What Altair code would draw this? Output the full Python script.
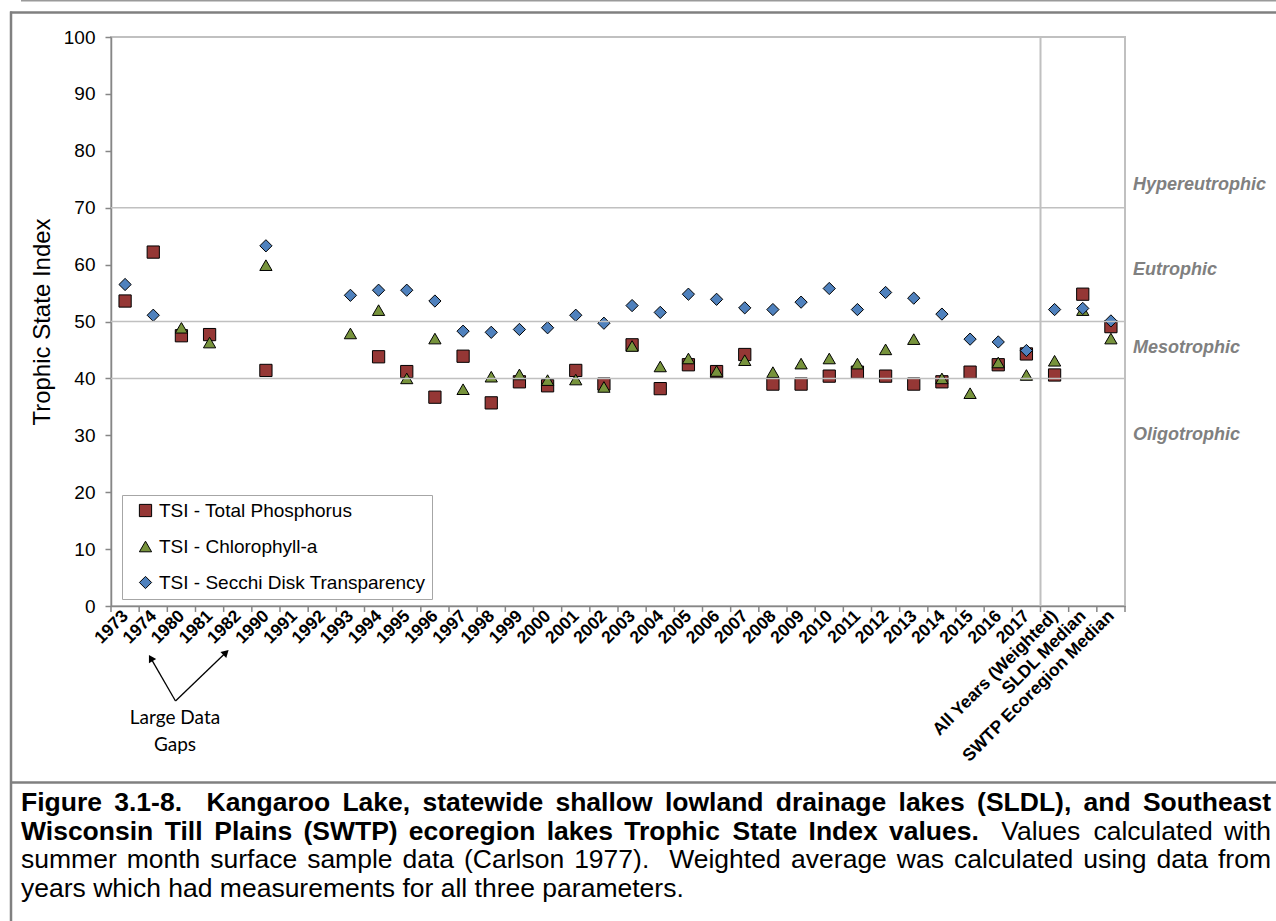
import math
import altair as alt
import pandas as pd

# ---- chart values -------------------------------------------------------
categories = ["1973", "1974", "1980", "1981", "1982", "1990", "1991", "1992",
              "1993", "1994", "1995", "1996", "1997", "1998", "1999", "2000",
              "2001", "2002", "2003", "2004", "2005", "2006", "2007", "2008",
              "2009", "2010", "2011", "2012", "2013", "2014", "2015", "2016",
              "2017", "All Years (Weighted)", "SLDL Median", "SWTP Ecoregion Median"]

series_names = ["TSI - Total Phosphorus", "TSI - Chlorophyll-a",
                "TSI - Secchi Disk Transparency"]

tsi_tp = [53.6, 62.2, 47.5, 47.7, None, 41.4, None, None, None,
          43.8, 41.2, 36.7, 43.9, 35.7, 39.4, 38.7, 41.4, 39.0, 45.9, 38.2,
          42.4, 41.2, 44.2, 39.0, 39.0, 40.4, 41.1, 40.4, 39.0, 39.4, 41.1,
          42.4, 44.3, 40.6, 54.8, 49.1]
tsi_chl = [None, None, 48.9, 46.3, None, 59.9, None, None, 47.9,
           52.0, 40.0, 47.0, 38.1, 40.3, 40.7, 39.7, 39.8, 38.5, 45.7, 42.1,
           43.5, 41.3, 43.2, 41.1, 42.6, 43.5, 42.6, 45.1, 46.9, 40.0, 37.4,
           42.8, 40.6, 43.1, 52.0, 47.0]
tsi_sd = [56.5, 51.1, None, None, None, 63.3, None, None, 54.6,
          55.5, 55.5, 53.6, 48.3, 48.1, 48.6, 48.9, 51.1, 49.7, 52.8, 51.6,
          54.8, 53.9, 52.4, 52.1, 53.4, 55.8, 52.1, 55.1, 54.1, 51.3, 46.9,
          46.4, 44.9, 52.1, 52.3, 50.1]

trophic_bounds = [40, 50, 70]
zone_names = ["Hypereutrophic", "Eutrophic", "Mesotrophic", "Oligotrophic"]
zone_label_at = [74.0, 59.0, 45.3, 30.0]

caption_lines = [
    ([("Figure 3.1-8.  Kangaroo Lake, statewide shallow lowland drainage lakes "
       "(SLDL), and Southeast", True)], True),
    ([("Wisconsin Till Plains (SWTP) ecoregion lakes Trophic State Index values.", True),
      ("  Values calculated with", False)], True),
    ([("summer month surface sample data (Carlson 1977).  Weighted average was "
       "calculated using data from", False)], True),
    ([("years which had measurements for all three parameters.", False)], False),
]

# ---- layout ---------------------------------------------------------------
CANVAS_W, CANVAS_H = 1276, 921
LEFT, TOP = 111, 37
W, H = 1014, 569
FONT = "Liberation Sans"
AXIS_GRAY = "#868686"
GRID_GRAY = "#c0c0c0"
FRAME_GRAY = "#808080"


def px(x):
    return x - LEFT


def py(y):
    return y - TOP


def one_row():
    return pd.DataFrame({"k": [0]})


# ---- point table ----------------------------------------------------------
rows = []
for name, vals in zip(series_names, [tsi_tp, tsi_chl, tsi_sd]):
    for cat, v in zip(categories, vals):
        if v is not None:
            rows.append({"category": cat, "series": name, "tsi": v})
points_df = pd.DataFrame(rows)

x_scale = alt.Scale(domain=categories, paddingInner=0, paddingOuter=0)
y_scale = alt.Scale(domain=[0, 100], nice=False, zero=True)

legend = alt.Legend(
    title=None, orient="none", legendX=px(122), legendY=py(495),
    direction="vertical", fillColor="white", strokeColor="#a6a6a6",
    padding=6, rowPadding=16, labelFont=FONT, labelFontSize=19,
    labelColor="black", labelLimit=500, labelOffset=4,
    symbolSize=150, symbolStrokeColor="black", symbolStrokeWidth=1,
    symbolOffset=8,
)

points = alt.Chart(points_df).mark_point(
    filled=True, stroke="black", strokeWidth=1, opacity=1, size=150
).encode(
    x=alt.X("category:N", scale=x_scale, sort=categories,
            axis=alt.Axis(title=None, ticks=False, labelAngle=315,
                          labelAlign="right", labelBaseline="middle",
                          labelFont=FONT, labelFontSize=17.5,
                          labelFontWeight="bold", labelColor="black",
                          labelPadding=7, labelOverlap=False, labelLimit=0,
                          domainColor=AXIS_GRAY, domainWidth=1.5)),
    y=alt.Y("tsi:Q", scale=y_scale,
            axis=alt.Axis(values=list(range(0, 101, 10)), grid=False,
                          tickSize=6, tickColor=AXIS_GRAY, tickWidth=1.5,
                          domainColor=AXIS_GRAY, domainWidth=1.5,
                          labelFont=FONT, labelFontSize=19,
                          labelColor="black", labelPadding=10,
                          title="Trophic State Index", titleFont=FONT,
                          titleFontSize=24, titleFontWeight="normal",
                          titleColor="black", titleAngle=270,
                          titleAlign="center", titleBaseline="middle",
                          titleX=px(42), titleY=H / 2)),
    color=alt.Color("series:N", sort=series_names,
                    scale=alt.Scale(domain=series_names,
                                    range=["#953735", "#77933C", "#4F81BD"]),
                    legend=legend),
    shape=alt.Shape("series:N", sort=series_names,
                    scale=alt.Scale(domain=series_names,
                                    range=["square", "triangle-up", "diamond"]),
                    legend=legend),
)

# trophic class boundaries
grid = alt.Chart(pd.DataFrame({"tsi": trophic_bounds})).mark_rule(
    color=GRID_GRAY, strokeWidth=1.5
).encode(y=alt.Y("tsi:Q", scale=y_scale, axis=None),
         x=alt.value(0), x2=alt.value(W))

# divider between annual values and summary values
divider = alt.Chart(pd.DataFrame({"category": ["All Years (Weighted)"]})).mark_rule(
    color=GRID_GRAY, strokeWidth=2
).encode(x=alt.X("category:N", scale=x_scale, sort=categories,
                 bandPosition=0, axis=None),
         y=alt.value(0), y2=alt.value(H))

# category boundary ticks on the x axis
xticks = alt.Chart(pd.DataFrame({"category": categories})).mark_rule(
    color=AXIS_GRAY, strokeWidth=1.5
).encode(x=alt.X("category:N", scale=x_scale, sort=categories,
                 bandPosition=0, axis=None),
         y=alt.value(H), y2=alt.value(H + 6))
end_tick = alt.Chart(one_row()).mark_rule(
    color=AXIS_GRAY, strokeWidth=1.5
).encode(x=alt.value(W), y=alt.value(H), y2=alt.value(H + 6))

zones = alt.Chart(pd.DataFrame({"zone": zone_names, "tsi": zone_label_at})).mark_text(
    align="left", baseline="middle", font=FONT, fontSize=18,
    fontWeight="bold", fontStyle="italic", color="#808080"
).encode(y=alt.Y("tsi:Q", scale=y_scale, axis=None),
         x=alt.value(px(1133)), text="zone:N")

# ---- figure frame ------------------------------------------------------------
def hline(x1, x2, y, color, width):
    return alt.Chart(one_row()).mark_rule(color=color, strokeWidth=width).encode(
        x=alt.value(px(x1)), x2=alt.value(px(x2)), y=alt.value(py(y)))


def vline(x, y1, y2, color, width):
    return alt.Chart(one_row()).mark_rule(color=color, strokeWidth=width).encode(
        x=alt.value(px(x)), y=alt.value(py(y1)), y2=alt.value(py(y2)))


frame = [
    hline(21, CANVAS_W, 0.75, "#9a9a9a", 1.5),
    hline(10, CANVAS_W, 12.5, FRAME_GRAY, 2.5),
    vline(11, 11.5, CANVAS_H, FRAME_GRAY, 2.5),
    hline(10, CANVAS_W, 782.5, FRAME_GRAY, 2.5),
]

# ---- "Large Data Gaps" note with arrows --------------------------------------
note = [
    alt.Chart(one_row()).mark_text(
        align="center", baseline="middle", font="Lato", fontSize=19,
        color="black", text=t
    ).encode(x=alt.value(px(175)), y=alt.value(py(yy)))
    for t, yy in [("Large Data", 718), ("Gaps", 745)]
]

arrow_base = (175.5, 701)
arrow_tips = [(149, 655), (228.5, 650)]
arrows = []
for tx, ty in arrow_tips:
    bx, by = arrow_base
    dx, dy = tx - bx, ty - by
    L = math.hypot(dx, dy)
    ux, uy = dx / L, dy / L
    head_h = 3.5
    arrows.append(alt.Chart(one_row()).mark_rule(
        color="black", strokeWidth=1.3
    ).encode(x=alt.value(px(bx)), y=alt.value(py(by)),
             x2=alt.value(px(tx - ux * 5)), y2=alt.value(py(ty - uy * 5))))
    ang = (math.degrees(math.atan2(ux, -uy)) + 360) % 360
    arrows.append(alt.Chart(one_row()).mark_point(
        shape="triangle-up", filled=True, color="black", opacity=1,
        size=70, angle=ang
    ).encode(x=alt.value(px(tx - ux * head_h)), y=alt.value(py(ty - uy * head_h))))

# ---- caption, justified word by word ----------------------------------------
REG = {" ": 278, "(": 333, ")": 333, ",": 278, "-": 333, ".": 278, ":": 278,
       "A": 667, "B": 667, "C": 722, "D": 722, "E": 667, "F": 611, "G": 778,
       "H": 722, "I": 278, "J": 500, "K": 667, "L": 556, "M": 833, "N": 722,
       "O": 778, "P": 667, "Q": 778, "R": 722, "S": 667, "T": 611, "U": 722,
       "V": 667, "W": 944, "X": 667, "Y": 667, "Z": 611,
       "a": 556, "b": 556, "c": 500, "d": 556, "e": 556, "f": 278, "g": 556,
       "h": 556, "i": 222, "j": 222, "k": 500, "l": 222, "m": 833, "n": 556,
       "o": 556, "p": 556, "q": 556, "r": 333, "s": 500, "t": 278, "u": 556,
       "v": 500, "w": 722, "x": 500, "y": 500, "z": 500}
BOLD = {" ": 278, "(": 333, ")": 333, ",": 278, "-": 333, ".": 278, ":": 333,
        "A": 722, "B": 722, "C": 722, "D": 722, "E": 667, "F": 611, "G": 778,
        "H": 722, "I": 278, "J": 556, "K": 722, "L": 611, "M": 833, "N": 722,
        "O": 778, "P": 667, "Q": 778, "R": 722, "S": 667, "T": 611, "U": 722,
        "V": 667, "W": 944, "X": 667, "Y": 667, "Z": 611,
        "a": 556, "b": 611, "c": 556, "d": 611, "e": 556, "f": 333, "g": 611,
        "h": 611, "i": 278, "j": 278, "k": 556, "l": 278, "m": 889, "n": 611,
        "o": 611, "p": 611, "q": 611, "r": 389, "s": 556, "t": 333, "u": 611,
        "v": 556, "w": 778, "x": 556, "y": 556, "z": 500}

CAP_SIZE = 26.5
CAP_LEFT, CAP_RIGHT = 21, 1271
CAP_FIRST_BASELINE, CAP_LEADING = 811, 28.5


def str_width(s, bold):
    table = BOLD if bold else REG
    return sum(table.get(ch, 556) for ch in s) / 1000 * CAP_SIZE


cap_rows = []
for li, (segments, justify) in enumerate(caption_lines):
    words, pending = [], 0
    for text, bold in segments:
        i = 0
        while i < len(text):
            if text[i] == " ":
                pending += 1
                i += 1
            else:
                j = i
                while j < len(text) and text[j] != " ":
                    j += 1
                words.append((text[i:j], bold, pending if words else 0))
                pending = 0
                i = j
    space_w = REG[" "] / 1000 * CAP_SIZE
    natural = sum(str_width(w, b) for w, b, _ in words) + \
        sum(s for _, _, s in words) * space_w
    n_sp = sum(s for _, _, s in words)
    extra = (CAP_RIGHT - CAP_LEFT - natural) / n_sp if justify and n_sp else 0
    x = CAP_LEFT
    for w, b, s in words:
        x += s * (space_w + extra)
        cap_rows.append({"word": w, "bold": b, "x": px(x),
                         "y": py(CAP_FIRST_BASELINE + li * CAP_LEADING)})
        x += str_width(w, b)
cap_df = pd.DataFrame(cap_rows)


def caption_layer(df, weight):
    return alt.Chart(df).mark_text(
        align="left", baseline="alphabetic", font=FONT, fontSize=CAP_SIZE,
        fontWeight=weight, color="black"
    ).encode(x=alt.X("x:Q", scale=None, axis=None),
             y=alt.Y("y:Q", scale=None, axis=None),
             text="word:N")


caption = [caption_layer(cap_df[cap_df["bold"]], "bold"),
           caption_layer(cap_df[~cap_df["bold"]], "normal")]

chart = alt.layer(
    points, *frame, grid, divider, xticks, end_tick, zones, *note, *arrows,
    *caption
).resolve_scale(
    x="independent", y="independent"
).properties(
    width=W, height=H,
    padding={"left": LEFT, "top": TOP,
             "right": CANVAS_W - LEFT - W, "bottom": CANVAS_H - TOP - H},
    autosize=alt.AutoSizeParams(type="none"),
    background="white",
).configure_view(stroke="#c0c0c0", strokeWidth=2)

chart.save("out.html", embed_options={"renderer": "svg", "actions": False})
